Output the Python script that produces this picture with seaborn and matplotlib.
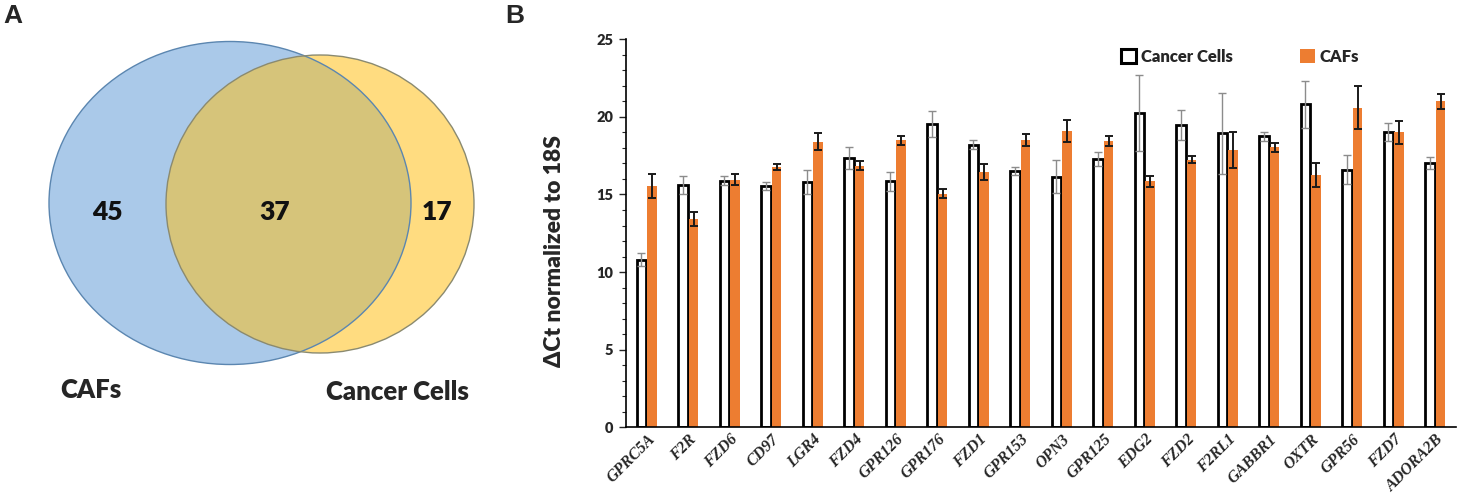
import matplotlib
matplotlib.use("Agg")
import matplotlib.pyplot as plt
import seaborn as sns
import pandas as pd
from matplotlib.patches import Ellipse, Patch
from matplotlib.ticker import MultipleLocator

# ---- data ----
genes = ["GPRC5A", "F2R", "FZD6", "CD97", "LGR4", "FZD4", "GPR126", "GPR176", "FZD1", "GPR153",
         "OPN3", "GPR125", "EDG2", "FZD2", "F2RL1", "GABBR1", "OXTR", "GPR56", "FZD7", "ADORA2B"]
cancer_mean = [10.8, 15.6, 15.9, 15.55, 15.8, 17.35, 15.85, 19.55, 18.2, 16.5,
               16.15, 17.3, 20.25, 19.5, 18.95, 18.75, 20.8, 16.6, 19.05, 17.05]
cancer_err = [0.4, 0.6, 0.3, 0.25, 0.75, 0.7, 0.6, 0.82, 0.28, 0.25,
              1.07, 0.45, 2.45, 0.97, 2.62, 0.3, 1.5, 0.93, 0.58, 0.39]
caf_mean = [15.55, 13.45, 15.95, 16.75, 18.4, 16.85, 18.5, 15.05, 16.45, 18.5,
            19.1, 18.45, 15.85, 17.25, 17.85, 18.05, 16.25, 20.6, 19.0, 21.0]
caf_err = [0.75, 0.45, 0.35, 0.2, 0.55, 0.3, 0.3, 0.28, 0.5, 0.37,
           0.7, 0.33, 0.36, 0.24, 1.16, 0.28, 0.77, 1.37, 0.72, 0.49]

venn_labels = ["CAFs", "Cancer Cells"]
venn_counts = [45, 37, 17]  # CAFs only, shared, Cancer Cells only

ORANGE = "#ED7D31"
W = "heavy"

fig = plt.figure(figsize=(14.58, 4.95), dpi=100)
sns.set_style("white")
plt.rcParams["font.family"] = ["Lato", "DejaVu Sans"]

# ---- panel A: Venn diagram (pixel-like coordinates) ----
axv = fig.add_axes([0, 0, 500 / 1458, 1])
axv.set_xlim(0, 500)
axv.set_ylim(495, 0)
axv.axis("off")

blue = Ellipse((230, 203), 362, 323, facecolor="#AAC9E9", edgecolor="none")
yellow = Ellipse((320, 204), 308, 298, facecolor="#FFDC80", edgecolor="none")
axv.add_patch(blue)
axv.add_patch(yellow)
overlap = Ellipse((320, 204), 308, 298, facecolor="#D6C47A", edgecolor="none")
axv.add_patch(overlap)
overlap.set_clip_path(blue)
axv.add_patch(Ellipse((230, 203), 362, 323, facecolor="none", edgecolor="#5B86B0", lw=1.0))
axv.add_patch(Ellipse((320, 204), 308, 298, facecolor="none", edgecolor="#8A8A70", lw=1.0))

for x, n in zip([107, 275, 437], venn_counts):
    axv.text(x, 212, str(n), ha="center", va="center", fontsize=19, fontweight=W,
             color="#111111")
axv.text(91, 390, venn_labels[0], ha="center", va="center", fontsize=18.5, fontweight=W)
axv.text(397, 392, venn_labels[1], ha="center", va="center", fontsize=18.5, fontweight=W)

fig.text(3 / 1458, 1 - 16 / 495, "A", ha="left", va="center", fontsize=19,
         fontweight="bold", family="Liberation Sans")
fig.text(505 / 1458, 1 - 16 / 495, "B", ha="left", va="center", fontsize=19,
         fontweight="bold", family="Liberation Sans")

# ---- panel B: bar chart ----
ax = fig.add_axes([626 / 1458, 1 - 427.3 / 495, 830 / 1458, 388 / 495])
df = pd.DataFrame({
    "gene": genes * 2,
    "value": cancer_mean + caf_mean,
    "group": ["Cancer Cells"] * len(genes) + ["CAFs"] * len(genes),
})
sns.barplot(data=df, x="gene", y="value", hue="group", hue_order=["Cancer Cells", "CAFs"],
            palette={"Cancer Cells": "white", "CAFs": ORANGE}, saturation=1,
            width=0.52, gap=0.12, errorbar=None, legend=False, ax=ax)

cc_bars, caf_bars = ax.containers[0], ax.containers[1]
for p in cc_bars:
    p.set_edgecolor("black")
    p.set_linewidth(2.0)
    p.set_zorder(2)
for p in caf_bars:
    p.set_edgecolor("none")
    p.set_zorder(2)

xs_cc = [p.get_x() + p.get_width() / 2 for p in cc_bars]
xs_caf = [p.get_x() + p.get_width() / 2 for p in caf_bars]
ax.errorbar(xs_cc, cancer_mean, yerr=cancer_err, fmt="none", ecolor="#8C8C8C",
            elinewidth=1.0, capsize=3, capthick=1.0, zorder=3)
ax.errorbar(xs_caf, caf_mean, yerr=caf_err, fmt="none", ecolor="#1a1a1a",
            elinewidth=1.4, capsize=3, capthick=1.4, zorder=3)

ax.set_xlim(-0.5, len(genes) - 0.5)
ax.set_ylim(0, 25)
ax.yaxis.set_major_locator(MultipleLocator(5))
ax.yaxis.set_minor_locator(MultipleLocator(1))
ax.tick_params(axis="y", which="major", direction="out", length=5, width=1, left=True,
               labelsize=10.5, pad=4)
ax.tick_params(axis="y", which="minor", direction="out", length=3, width=0.8, left=True)
ax.tick_params(axis="x", length=0, pad=3)
for lab in ax.get_yticklabels():
    lab.set_fontweight(W)
ax.set_xticks(range(len(genes)))
ax.set_xticklabels(genes, rotation=45, ha="right", rotation_mode="anchor",
                   family="Liberation Serif", fontstyle="italic", fontweight="bold",
                   fontsize=11.5)
ax.set_xlabel("")
ax.set_ylabel("ΔCt normalized to 18S", fontsize=16.5, fontweight=W)
ax.yaxis.set_label_coords(-0.074, 0.454)

sns.despine(ax=ax)
for side in ["left", "bottom"]:
    ax.spines[side].set_color("black")
    ax.spines[side].set_linewidth(1.2)

handles = [Patch(facecolor="white", edgecolor="black", linewidth=2.2),
           Patch(facecolor=ORANGE, edgecolor="none")]
ax.legend(handles, ["Cancer Cells", "CAFs"], ncol=2, frameon=False,
          loc="center", bbox_to_anchor=(0.74, 0.955), handlelength=0.9, handleheight=0.9,
          handletextpad=0.3, columnspacing=4.0, prop={"weight": W, "size": 12})

fig.savefig("out.png", dpi=100)
